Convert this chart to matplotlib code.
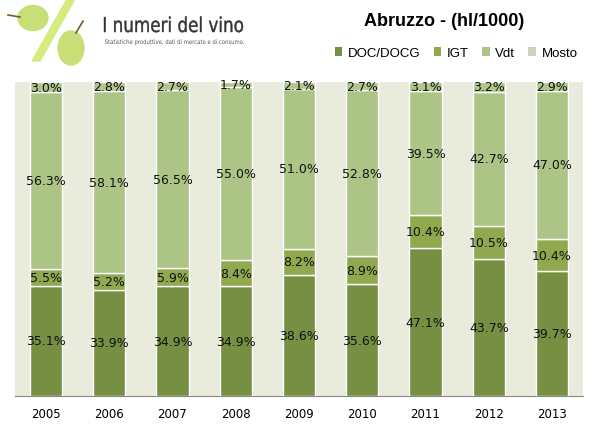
import numpy as np
import matplotlib
matplotlib.use('Agg')
from matplotlib import pyplot as plt
from matplotlib.patches import Patch, Ellipse, Polygon, PathPatch
from matplotlib.textpath import TextPath
from matplotlib.font_manager import FontProperties
from matplotlib.transforms import Affine2D

# data (percent share per year)
years = ['2005', '2006', '2007', '2008', '2009', '2010', '2011', '2012', '2013']
series = ['DOC/DOCG', 'IGT', 'Vdt', 'Mosto']
doc = [35.1, 33.9, 34.9, 34.9, 38.6, 35.6, 47.1, 43.7, 39.7]
igt = [5.5, 5.2, 5.9, 8.4, 8.2, 8.9, 10.4, 10.5, 10.4]
vdt = [56.3, 58.1, 56.5, 55.0, 51.0, 52.8, 39.5, 42.7, 47.0]
mosto = [3.0, 2.8, 2.7, 1.7, 2.1, 2.7, 3.1, 3.2, 2.9]

bar_colors = ['#778f43', '#90a94f', '#adc487', '#b0c68b']
legend_colors = ['#778f43', '#90a94f', '#adc487', '#cbd4bb']

fig = plt.figure(figsize=(5.98, 4.31), dpi=100)
ax = fig.add_axes([15/598, 34/431, 568/598, 314/431])
ax.set_facecolor('#e9ecdd')

x = np.arange(len(years))
bottom = np.zeros(len(years))
for vals, col in zip([doc, igt, vdt, mosto], bar_colors):
    vals = np.array(vals)
    ax.bar(x, vals, 0.51, bottom=bottom, color=col, edgecolor='white', linewidth=1, zorder=2)
    for xi, b, v in zip(x, bottom, vals):
        ax.text(xi, b + v/2, '%.1f%%' % v, ha='center', va='center', fontsize=9, color='#111111', zorder=3)
    bottom += vals

ax.set_xlim(-0.49, len(years) - 0.51)
ax.set_ylim(0, 100)
ax.set_xticks(x)
ax.set_xticklabels(years, fontsize=8.5)
ax.tick_params(axis='x', length=0, pad=8)
ax.set_yticks([])
for s in ['top', 'right', 'left']:
    ax.spines[s].set_visible(False)
ax.spines['bottom'].set_color('#888888')

# title and legend
fig.text(444/598, 1 - 21/431, 'Abruzzo - (hl/1000)', ha='center', va='center', fontsize=13,
         fontweight='bold', family='Liberation Sans')
handles = [Patch(facecolor=c, edgecolor='none') for c in legend_colors]
fig.legend(handles, series, loc='center', bbox_to_anchor=(456/598, 1 - 54/431), ncol=4, frameon=False,
           prop={'family': 'Liberation Sans', 'size': 9.5},
           handlelength=0.6, handleheight=0.6, handletextpad=0.4, columnspacing=1.0)

# logo (simplified), drawn in pixel units
logo = fig.add_axes([0, 1 - 75/431, 250/598, 75/431])
logo.set_xlim(0, 250)
logo.set_ylim(75, 0)
logo.axis('off')
logo.add_patch(Ellipse((33, 19), 30, 25, color='#c8df78'))
logo.add_patch(Polygon([[67, 0], [75, 0], [40, 62], [32, 62]], closed=True, color='#d5eb80'))
logo.add_patch(Ellipse((71, 49), 26, 34, color='#c8df78'))
logo.plot([8, 20], [16, 18], color='#7a5a30', lw=1.2)
logo.plot([83, 76], [22, 34], color='#7a5a30', lw=1.2)


def squeezed_text(s, x0, baseline, size, width, color, stroke=0.0):
    # text squeezed horizontally to mimic the narrow logo font
    tp = TextPath((0, 0), s, size=size, prop=FontProperties(family='DejaVu Sans'))
    ext = tp.get_extents()
    sx = width / ext.width
    tr = Affine2D().translate(-ext.x0, 0).scale(sx, -1).translate(x0, baseline) + logo.transData
    logo.add_patch(PathPatch(tp, transform=tr, facecolor=color, edgecolor=color, linewidth=stroke))


squeezed_text('I numeri del vino', 104, 33, 20.5, 139, '#333333', stroke=0.3)
squeezed_text('Statistiche produttive, dati di mercato e di consumo.', 105, 45, 6.2, 139, '#555555')

fig.savefig('out.png', dpi=100)
